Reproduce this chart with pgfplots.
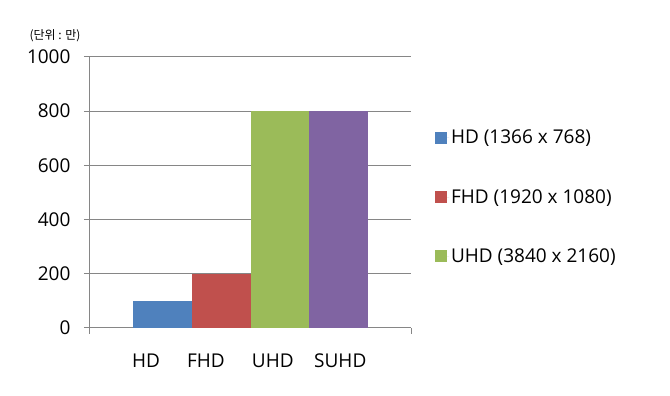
\documentclass[border=0pt]{standalone}
\usepackage{pgfplots}
\pgfplotsset{compat=1.18}
\usepackage{fontspec}
\setmainfont{Open Sans}
\newfontfamily\kr{Noto Sans CJK KR}
\definecolor{c1}{HTML}{4F81BD}
\definecolor{c2}{HTML}{C0504D}
\definecolor{c3}{HTML}{9BBB59}
\definecolor{c4}{HTML}{8064A2}
\definecolor{gridc}{HTML}{868686}
\begin{document}
\begin{tikzpicture}[x=1pt,y=1pt]
\useasboundingbox (0,0) rectangle (670,396);
\begin{axis}[
  at={(90pt,68pt)}, anchor=south west,
  scale only axis, width=321pt, height=271pt,
  xmin=-0.235, xmax=5.235, ymin=0, ymax=1000,
  ybar, bar width=1,
  axis x line*=bottom, axis y line*=left,
  axis line style={gridc, line width=1pt, -},
  ymajorgrids, grid style={gridc, line width=1pt},
  ytick={0,200,...,1000},
  tick align=outside, major tick length=6pt,
  tick style={gridc, line width=1pt},
  xtick={0.72,1.74,2.88,4.03},
  xticklabels={HD,FHD,UHD,SUHD},
  xtick style={draw=none},
  extra x ticks={-0.235,5.235},
  extra x tick labels={},
  extra x tick style={xtick style={draw=gridc, line width=1pt}},
  /pgf/number format/assume math mode=true,
  /pgf/number format/1000 sep={},
  ticklabel style={font=\fontsize{19}{23}\selectfont, text=black},
  xticklabel style={yshift=-16pt},
  yticklabel style={xshift=-10pt},
  legend style={at={(1.065,0.483)}, anchor=west, draw=none, fill=none,
    font=\fontsize{19}{23}\selectfont, row sep=40pt},
  legend cell align=left,
  legend image code/.code={\draw[#1, draw=none] (0pt,-6pt) rectangle (12pt,6pt); \path (0pt,0pt) -- (14pt,0pt);},
  clip=false,
]
\addplot[fill=c1, draw=none, bar shift=0pt] coordinates {(1,100)};
\addlegendentry{HD (1366 x 768)}
\addplot[fill=c2, draw=none, bar shift=0pt] coordinates {(2,200)};
\addlegendentry{FHD (1920 x 1080)}
\addplot[fill=c3, draw=none, bar shift=0pt] coordinates {(3,800)};
\addlegendentry{UHD (3840 x 2160)}
\addplot[fill=c4, draw=none, bar shift=0pt, forget plot] coordinates {(4,800)};
\node[font=\kr\fontsize{12}{14}\selectfont, text=black] at (rel axis cs:-0.109,1.077) {(단위 : 만)};
\end{axis}
\end{tikzpicture}
\end{document}
